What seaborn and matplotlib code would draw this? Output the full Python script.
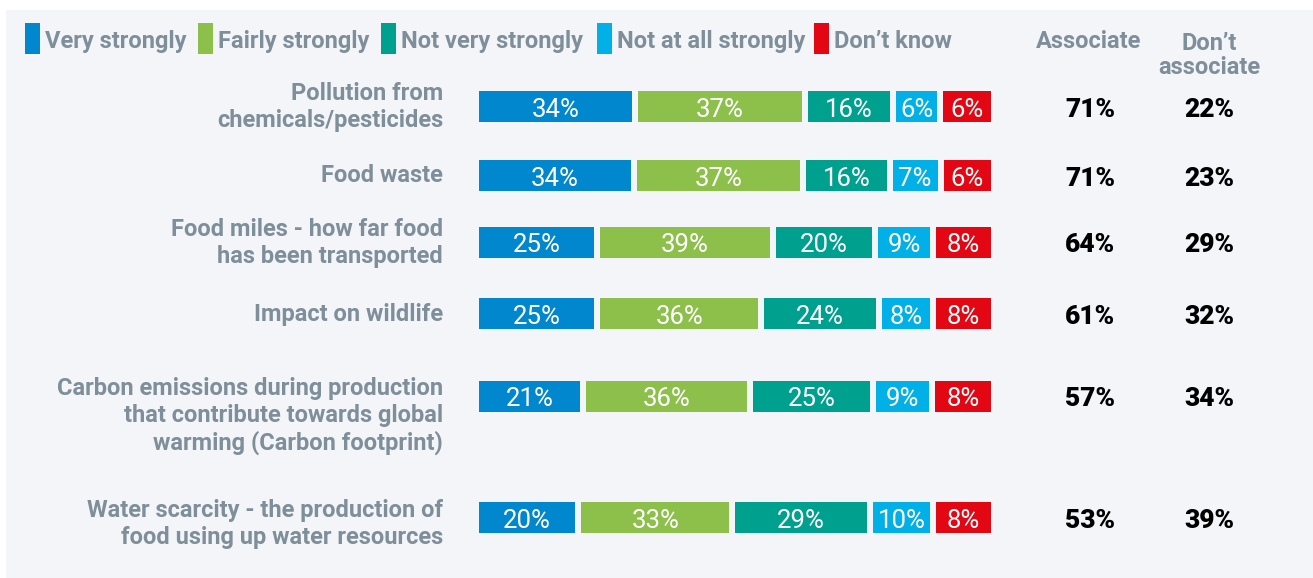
import numpy as np
import pandas as pd
import matplotlib
matplotlib.use("Agg")
import matplotlib.pyplot as plt
from matplotlib.patches import Rectangle
from matplotlib import font_manager as fm
import seaborn as sns

# ---------------- data ----------------
categories = [
    "Pollution from\nchemicals/pesticides",
    "Food waste",
    "Food miles - how far food\nhas been transported",
    "Impact on wildlife",
    "Carbon emissions during production\nthat contribute towards global\nwarming (Carbon footprint)",
    "Water scarcity - the production of\nfood using up water resources",
]
series_names = ["Very strongly", "Fairly strongly", "Not very strongly",
                "Not at all strongly", "Don\u2019t know"]
very_strongly = [34, 34, 25, 25, 21, 20]
fairly_strongly = [37, 37, 39, 36, 36, 33]
not_very_strongly = [16, 16, 20, 24, 25, 29]
not_at_all_strongly = [6, 7, 9, 8, 9, 10]
dont_know = [6, 6, 8, 8, 8, 8]
associate = [71, 71, 64, 61, 57, 53]
dont_associate = [22, 23, 29, 32, 34, 39]
column_headers = ["Associate", "Don\u2019t\nassociate"]

# ---------------- layout / style ----------------
W, H = 1313, 578
X0_PX, PX_PER_UNIT = 479, 5.12          # bar start pixel, pixels per percent
row_y = [106.5, 175, 242, 313, 396, 517]  # bar centres (pixels from top)
label_y = [107, 175, 243, 314, 416, 524]
BAR_H = 31
GAP_PX = 6
PAD = 6.0  # display padding per segment so short labels fit (as in original)
colors = ["#0087CD", "#8CC04B", "#00A08F", "#00B0E6", "#E30613"]
GREY = "#7E8F9A"
PANEL = "#F3F5F9"
legend_sq_x = [25, 198, 381, 597, 814]
col_x = [1090, 1209]

sns.set_theme(style="white")
avail = {f.name for f in fm.fontManager.ttflist}


def pick(*names):
    for n in names:
        if n in avail:
            return n
    return "DejaVu Sans"


HEAD = pick("Roboto", "Liberation Sans")
REG = pick("Roboto", "Liberation Sans")
NUM = pick("Roboto", "Liberation Sans")
plt.rcParams["font.family"] = [REG, "DejaVu Sans"]
HEAD_KW = dict(family=[HEAD, "DejaVu Sans"], fontweight="bold")

fig = plt.figure(figsize=(W / 100, H / 100), dpi=100)
fig.patch.set_facecolor("white")
ax = fig.add_axes([0, 0, 1, 1])


def xd(px):
    return (px - X0_PX) / PX_PER_UNIT


# panel background
ax.add_patch(Rectangle((xd(6), 10), (W - 6) / PX_PER_UNIT, H - 10,
                       facecolor=PANEL, edgecolor="none", zorder=0, clip_on=False))

vals = np.array([very_strongly, fairly_strongly, not_very_strongly,
                 not_at_all_strongly, dont_know], dtype=float)
disp = vals + PAD
disp = disp / disp.sum(axis=0) * 100
ends = np.cumsum(disp, axis=0)
starts = ends - disp
gap = GAP_PX / PX_PER_UNIT
native = np.min(np.diff(sorted(row_y)))

for i, name in enumerate(series_names):
    w = disp[i] - (gap if i < len(series_names) - 1 else 0)
    df = pd.DataFrame({"row": row_y, "length": w})
    sns.barplot(data=df, x="length", y="row", orient="y", native_scale=True,
                width=BAR_H / native, color=colors[i], saturation=1,
                left=starts[i], errorbar=None, linewidth=0, ax=ax, zorder=2)
    for r in range(len(row_y)):
        ax.text(starts[i][r] + w[r] / 2, row_y[r] + 1, f"{int(vals[i][r])}%",
                ha="center", va="center_baseline", color="white", fontsize=18.5,
                fontweight="normal", family=[REG, "DejaVu Sans"], zorder=3)

# category labels
for r, lab in enumerate(categories):
    ax.text(xd(443), label_y[r], lab, ha="right", va="center", color=GREY,
            fontsize=17, linespacing=1.2, **HEAD_KW)

# right-hand columns
for r in range(len(row_y)):
    ax.text(xd(col_x[0]), row_y[r] + 1, f"{associate[r]}%", ha="center",
            va="center_baseline", color="black", fontsize=19, fontweight="heavy",
            family=[NUM, "DejaVu Sans"])
    ax.text(xd(col_x[1]), row_y[r] + 1, f"{dont_associate[r]}%", ha="center",
            va="center_baseline", color="black", fontsize=19, fontweight="heavy",
            family=[NUM, "DejaVu Sans"])

ax.text(xd(col_x[0] - 1), 48, column_headers[0], ha="center", va="baseline",
        color=GREY, fontsize=17, **HEAD_KW)
hdr2 = column_headers[1].split("\n")
ax.text(xd(col_x[1]), 50, hdr2[0], ha="center", va="baseline",
        color=GREY, fontsize=17, **HEAD_KW)
ax.text(xd(col_x[1]), 74, hdr2[1], ha="center", va="baseline",
        color=GREY, fontsize=17, **HEAD_KW)

# legend
for i, name in enumerate(series_names):
    ax.add_patch(Rectangle((xd(legend_sq_x[i]), 23), 15 / PX_PER_UNIT, 31,
                           facecolor=colors[i], edgecolor="none", zorder=2,
                           clip_on=False))
    ax.text(xd(legend_sq_x[i] + 20), 48, name, ha="left", va="baseline",
            color=GREY, fontsize=17, **HEAD_KW)

ax.set_xlim(xd(0), xd(W))
ax.set_ylim(H, 0)
ax.set_axis_off()

fig.savefig("out.png", dpi=100, facecolor="white")
